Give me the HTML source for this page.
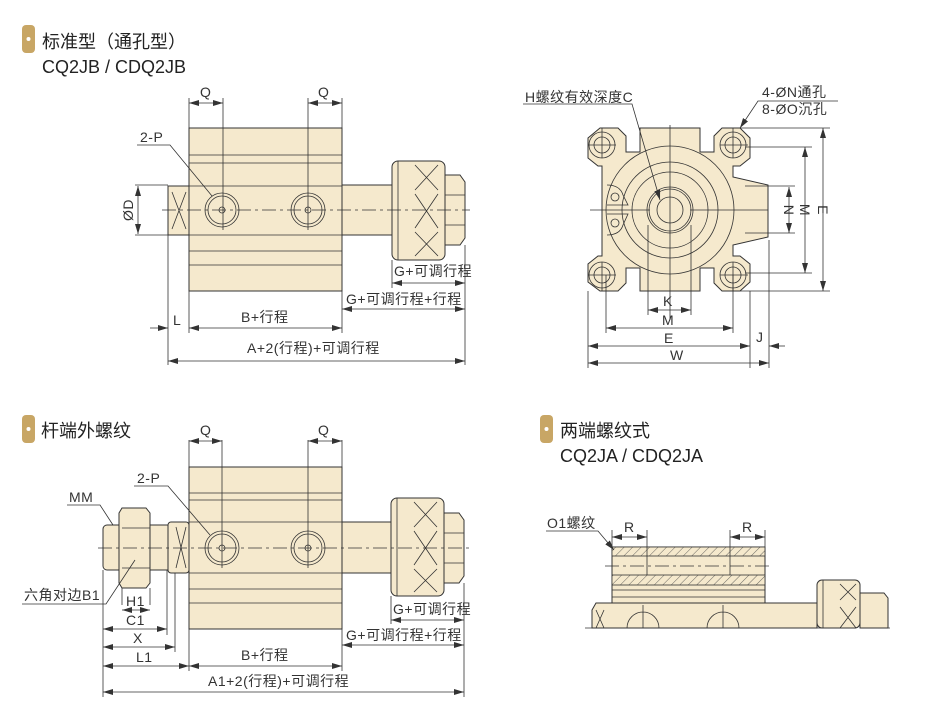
<!DOCTYPE html>
<html><head><meta charset="utf-8"><style>
body{margin:0;background:#fff}
svg{display:block}
.t{font-family:"Liberation Sans","Noto Sans CJK SC",sans-serif;fill:#222}
.d{font-family:"Liberation Sans","Noto Sans CJK SC",sans-serif;fill:#333;font-size:14px;letter-spacing:0.5px}
.b{fill:#f5e9cd;stroke:#333;stroke-width:1}
.l{stroke:#333;stroke-width:0.8;fill:none}
.c{stroke:#333;stroke-width:0.7;stroke-dasharray:14 4 3 4;fill:none}
</style></head><body>
<svg width="936" height="713" viewBox="0 0 936 713" xmlns="http://www.w3.org/2000/svg">
<defs>
<marker id="a" viewBox="0 0 10 6" refX="10" refY="3" markerWidth="10" markerHeight="6" orient="auto-start-reverse" markerUnits="userSpaceOnUse"><path d="M0 0L10 3L0 6z" fill="#333"/></marker>
<pattern id="h" width="6" height="6" patternUnits="userSpaceOnUse" patternTransform="rotate(45)"><rect width="6" height="6" fill="#f5e9cd"/><line x1="0" y1="0" x2="0" y2="6" stroke="#444" stroke-width="0.8"/></pattern>
</defs>

<rect x="22" y="25" width="13" height="28" rx="4" fill="#c8a665"/><circle cx="28.5" cy="39" r="2" fill="#fff"/>
<text x="42" y="48" class="t" font-size="18">标准型（通孔型）</text>
<text x="42" y="73" class="t" font-size="18">CQ2JB / CDQ2JB</text>
<rect x="22" y="415" width="13" height="28" rx="4" fill="#c8a665"/><circle cx="28.5" cy="429" r="2" fill="#fff"/>
<text x="41" y="437" class="t" font-size="18">杆端外螺纹</text>
<rect x="540" y="415" width="13" height="28" rx="4" fill="#c8a665"/><circle cx="546.5" cy="429" r="2" fill="#fff"/>
<text x="560" y="437" class="t" font-size="18">两端螺纹式</text>
<text x="560" y="462" class="t" font-size="18">CQ2JA / CDQ2JA</text>

<!-- Top-left -->
<g>
<rect class="b" x="168" y="186" width="21" height="49"/>
<path class="l" d="M172 192L186 229M186 192L172 229"/>
<rect class="b" x="189" y="128" width="153" height="163"/>
<path class="l" d="M189 155H342M189 163H342M189 186H342M189 235H342M189 251H342M189 265H342"/>
<rect class="b" x="342" y="185" width="50" height="50"/>
<rect class="b" x="392" y="161" width="53" height="99" rx="6"/>
<path class="l" d="M398 161V260M415 165L438 190M438 165L415 190M415 194L438 228M438 194L415 228M415 232L438 256M438 232L415 256"/>
<path class="b" d="M445 175H460L465 182V238L460 245H445Z"/>
<path class="l" d="M445 195H465M445 225H465"/>
<circle class="l" cx="222" cy="210" r="17"/><circle class="l" cx="222" cy="210" r="14"/><circle class="l" cx="222" cy="210" r="3"/>
<circle class="l" cx="308" cy="210" r="17"/><circle class="l" cx="308" cy="210" r="14"/><circle class="l" cx="308" cy="210" r="3"/>
<line class="c" x1="162" y1="210" x2="470" y2="210"/>
<path class="l" d="M223 98V230M308 98V230M189 98V128M342 98V128"/>
<line class="l" x1="189" y1="103" x2="223" y2="103" marker-start="url(#a)" marker-end="url(#a)"/>
<line class="l" x1="308" y1="103" x2="342" y2="103" marker-start="url(#a)" marker-end="url(#a)"/>
<text x="200" y="97" class="d">Q</text><text x="318" y="97" class="d">Q</text>
<text x="140" y="142" class="d">2-P</text>
<path class="l" d="M137 145H170L212 196"/>
<path class="l" d="M135 185H168M135 235H168"/>
<line class="l" x1="138" y1="186" x2="138" y2="234" marker-start="url(#a)" marker-end="url(#a)"/>
<text class="d" transform="translate(133 210) rotate(-90)" text-anchor="middle">ØD</text>
<path class="l" d="M168 235V365M189 291V333M342 291V333M465 245V365M392 260V288"/>
<line class="l" x1="150" y1="328" x2="168" y2="328" marker-end="url(#a)"/>
<text x="173" y="325" class="d">L</text>
<line class="l" x1="189" y1="328" x2="342" y2="328" marker-start="url(#a)" marker-end="url(#a)"/>
<text x="241" y="322" class="d">B+行程</text>
<line class="l" x1="168" y1="361" x2="465" y2="361" marker-start="url(#a)" marker-end="url(#a)"/>
<text x="247" y="353" class="d">A+2(行程)+可调行程</text>
<line class="l" x1="392" y1="283" x2="465" y2="283" marker-start="url(#a)" marker-end="url(#a)"/>
<text x="394" y="276" class="d">G+可调行程</text>
<line class="l" x1="342" y1="309" x2="465" y2="309" marker-start="url(#a)" marker-end="url(#a)"/>
<text x="346" y="304" class="d">G+可调行程+行程</text>
</g>

<!-- Bottom-left -->
<g>
<rect class="b" x="103" y="525" width="20" height="45" rx="4"/>
<path class="b" d="M122 508H146L150 513V583L146 588H122L119 583V513Z"/>
<path class="l" d="M122 528H150M122 568H150"/>
<rect class="b" x="150" y="525" width="18" height="45"/>
<rect class="b" x="168" y="522" width="21" height="51" rx="3"/>
<path class="l" d="M176 527L186 568M186 527L176 568"/>
<rect class="b" x="189" y="467" width="153" height="162"/>
<path class="l" d="M189 493H342M189 500H342M189 522H342M189 573H342M189 589H342M189 603H342"/>
<rect class="b" x="342" y="522" width="49" height="51"/>
<rect class="b" x="391" y="498" width="53" height="98" rx="6"/>
<path class="l" d="M397 498V596M414 502L437 527M437 502L414 527M414 531L437 565M437 531L414 565M414 569L437 592M437 569L414 592"/>
<path class="b" d="M444 513H459L464 520V576L459 583H444Z"/>
<path class="l" d="M444 533H464M444 563H464"/>
<circle class="l" cx="222" cy="548" r="17"/><circle class="l" cx="222" cy="548" r="14"/><circle class="l" cx="222" cy="548" r="3"/>
<circle class="l" cx="308" cy="548" r="17"/><circle class="l" cx="308" cy="548" r="14"/><circle class="l" cx="308" cy="548" r="3"/>
<line class="c" x1="98" y1="548" x2="470" y2="548"/>
<path class="l" d="M222 440V568M308 440V568M189 440V467M342 440V467"/>
<line class="l" x1="189" y1="441" x2="222" y2="441" marker-start="url(#a)" marker-end="url(#a)"/>
<line class="l" x1="308" y1="441" x2="342" y2="441" marker-start="url(#a)" marker-end="url(#a)"/>
<text x="200" y="435" class="d">Q</text><text x="318" y="435" class="d">Q</text>
<text x="137" y="483" class="d">2-P</text>
<path class="l" d="M134 486H168L210 535"/>
<text x="69" y="502" class="d">MM</text>
<path class="l" d="M67 505H100L113 525"/>
<text x="24" y="600" class="d" font-size="13">六角对边B1</text>
<path class="l" d="M22 604H106L135 560"/>
<path class="l" d="M103 570V697M122 588V605M150 588V605M167 570V635M175 573V652M189 629V671M342 629V671M464 583V697M391 596V624"/>
<line class="l" x1="122" y1="610" x2="150" y2="610" marker-start="url(#a)" marker-end="url(#a)"/>
<text x="126" y="606" class="d">H1</text>
<line class="l" x1="103" y1="629" x2="167" y2="629" marker-start="url(#a)" marker-end="url(#a)"/>
<text x="126" y="625" class="d">C1</text>
<line class="l" x1="103" y1="647" x2="175" y2="647" marker-start="url(#a)" marker-end="url(#a)"/>
<text x="133" y="643" class="d">X</text>
<line class="l" x1="103" y1="666" x2="189" y2="666" marker-start="url(#a)" marker-end="url(#a)"/>
<text x="136" y="662" class="d">L1</text>
<line class="l" x1="189" y1="666" x2="342" y2="666" marker-start="url(#a)" marker-end="url(#a)"/>
<text x="241" y="660" class="d">B+行程</text>
<line class="l" x1="103" y1="692" x2="464" y2="692" marker-start="url(#a)" marker-end="url(#a)"/>
<text x="208" y="686" class="d">A1+2(行程)+可调行程</text>
<line class="l" x1="391" y1="620" x2="464" y2="620" marker-start="url(#a)" marker-end="url(#a)"/>
<text x="393" y="614" class="d">G+可调行程</text>
<line class="l" x1="342" y1="645" x2="464" y2="645" marker-start="url(#a)" marker-end="url(#a)"/>
<text x="346" y="640" class="d">G+可调行程+行程</text>
</g>

<!-- Top-right end view -->
<g>
<path class="b" d="M600 128H618L626 136V152H640V128H700V152H714V136L722 128H740L750 138V158L740 166H733V177L768 185V237L733 245V256H740L750 264V282L740 291H722L714 283V268H700V291H640V268H626V283L618 291H600L588 282V264L598 256H602V166H598L588 158V138Z"/>
<circle class="l" cx="602" cy="145" r="13"/><circle class="l" cx="602" cy="145" r="8"/>
<circle class="l" cx="733" cy="145" r="13"/><circle class="l" cx="733" cy="145" r="8"/>
<circle class="l" cx="602" cy="275" r="13"/><circle class="l" cx="602" cy="275" r="8"/>
<circle class="l" cx="733" cy="275" r="13"/><circle class="l" cx="733" cy="275" r="8"/>
<circle class="l" cx="670" cy="210" r="64"/>
<circle class="l" cx="670" cy="210" r="48"/>
<circle class="l" cx="670" cy="210" r="38"/>
<circle class="l" cx="670" cy="210" r="23"/><circle class="l" cx="670" cy="210" r="21"/>
<circle class="l" cx="670" cy="210" r="13"/>
<circle class="l" cx="615" cy="197" r="4"/><circle class="l" cx="615" cy="223" r="4"/>
<path class="l" d="M607 185Q620 185 623 195L628 205H607M607 214H628L623 225Q620 235 607 235"/>
<path class="l" d="M590 210H650M690 210H768M670 125V320M602 128V158M733 128V158M602 262V291M733 262V291M588 145H616M720 145H748M588 275H616M720 275H748"/>
<path class="l" d="M648 225V315M691 225V315M606 275V333M733 275V333M588 291V368M750 291V368M769 240V368"/>
<line class="l" x1="648" y1="310" x2="691" y2="310" marker-start="url(#a)" marker-end="url(#a)"/>
<text x="663" y="306" class="d">K</text>
<line class="l" x1="606" y1="328" x2="733" y2="328" marker-start="url(#a)" marker-end="url(#a)"/>
<text x="662" y="325" class="d">M</text>
<line class="l" x1="588" y1="346" x2="750" y2="346" marker-start="url(#a)" marker-end="url(#a)"/>
<text x="664" y="343" class="d">E</text>
<line class="l" x1="785" y1="346" x2="769" y2="346" marker-end="url(#a)"/>
<text x="756" y="342" class="d">J</text>
<line class="l" x1="588" y1="363" x2="769" y2="363" marker-start="url(#a)" marker-end="url(#a)"/>
<text x="670" y="360" class="d">W</text>
<path class="l" d="M745 186H795M745 233H795M745 147H812M745 273H812M740 128H830M740 291H830"/>
<line class="l" x1="789" y1="187" x2="789" y2="233" marker-start="url(#a)" marker-end="url(#a)"/>
<text class="d" transform="translate(784 210) rotate(90)" text-anchor="middle">N</text>
<line class="l" x1="805" y1="147" x2="805" y2="273" marker-start="url(#a)" marker-end="url(#a)"/>
<text class="d" transform="translate(800 210) rotate(90)" text-anchor="middle">M</text>
<line class="l" x1="823" y1="128" x2="823" y2="291" marker-start="url(#a)" marker-end="url(#a)"/>
<text class="d" transform="translate(818 210) rotate(90)" text-anchor="middle">E</text>
<text x="525" y="102" class="d">H螺纹有效深度C</text>
<path class="l" d="M523 104H632L660 200" marker-end="url(#a)"/>
<text x="762" y="97" class="d">4-ØN通孔</text>
<text x="762" y="114" class="d">8-ØO沉孔</text>
<path class="l" d="M838 101H758L740 128" marker-end="url(#a)"/>
</g>

<!-- Bottom-right -->
<g>
<path class="b" d="M592 628V610L596 603H817V628Z"/>
<rect class="b" x="817" y="580" width="43" height="48" rx="5"/>
<path class="l" d="M823 580V628M840 584L856 600M856 584L840 600M840 607L856 628M856 607L840 628"/>
<path class="b" d="M860 593H884L888 598V628H860Z"/>
<path class="l" d="M596 610L604 628M604 610L596 628"/>
<rect class="b" x="612" y="547" width="153" height="56"/>
<rect x="612" y="547" width="153" height="9" fill="url(#h)" stroke="#333" stroke-width="0.8"/>
<rect x="612" y="575" width="153" height="10" fill="url(#h)" stroke="#333" stroke-width="0.8"/>
<path class="l" d="M612 590H765M612 597H765M647 556V575M730 556V575"/>
<line class="c" x1="605" y1="566" x2="770" y2="566"/>
<path class="l" d="M627 628A16 16 0 0 1 659 628M707 628A16 16 0 0 1 739 628M643 605V628M723 605V628"/>
<line x1="585" y1="628" x2="890" y2="628" stroke="#333" stroke-width="0.8" stroke-dasharray="14 4 3 4"/>
<path class="l" d="M612 530V547M647 530V556M730 530V556M765 530V547"/>
<line class="l" x1="612" y1="537" x2="647" y2="537" marker-start="url(#a)" marker-end="url(#a)"/>
<line class="l" x1="730" y1="537" x2="765" y2="537" marker-start="url(#a)" marker-end="url(#a)"/>
<text x="624" y="532" class="d">R</text><text x="742" y="532" class="d">R</text>
<text x="547" y="528" class="d">O1螺纹</text>
<path class="l" d="M546 531H598L614 550" marker-end="url(#a)"/>
</g>
</svg>
</body></html>
